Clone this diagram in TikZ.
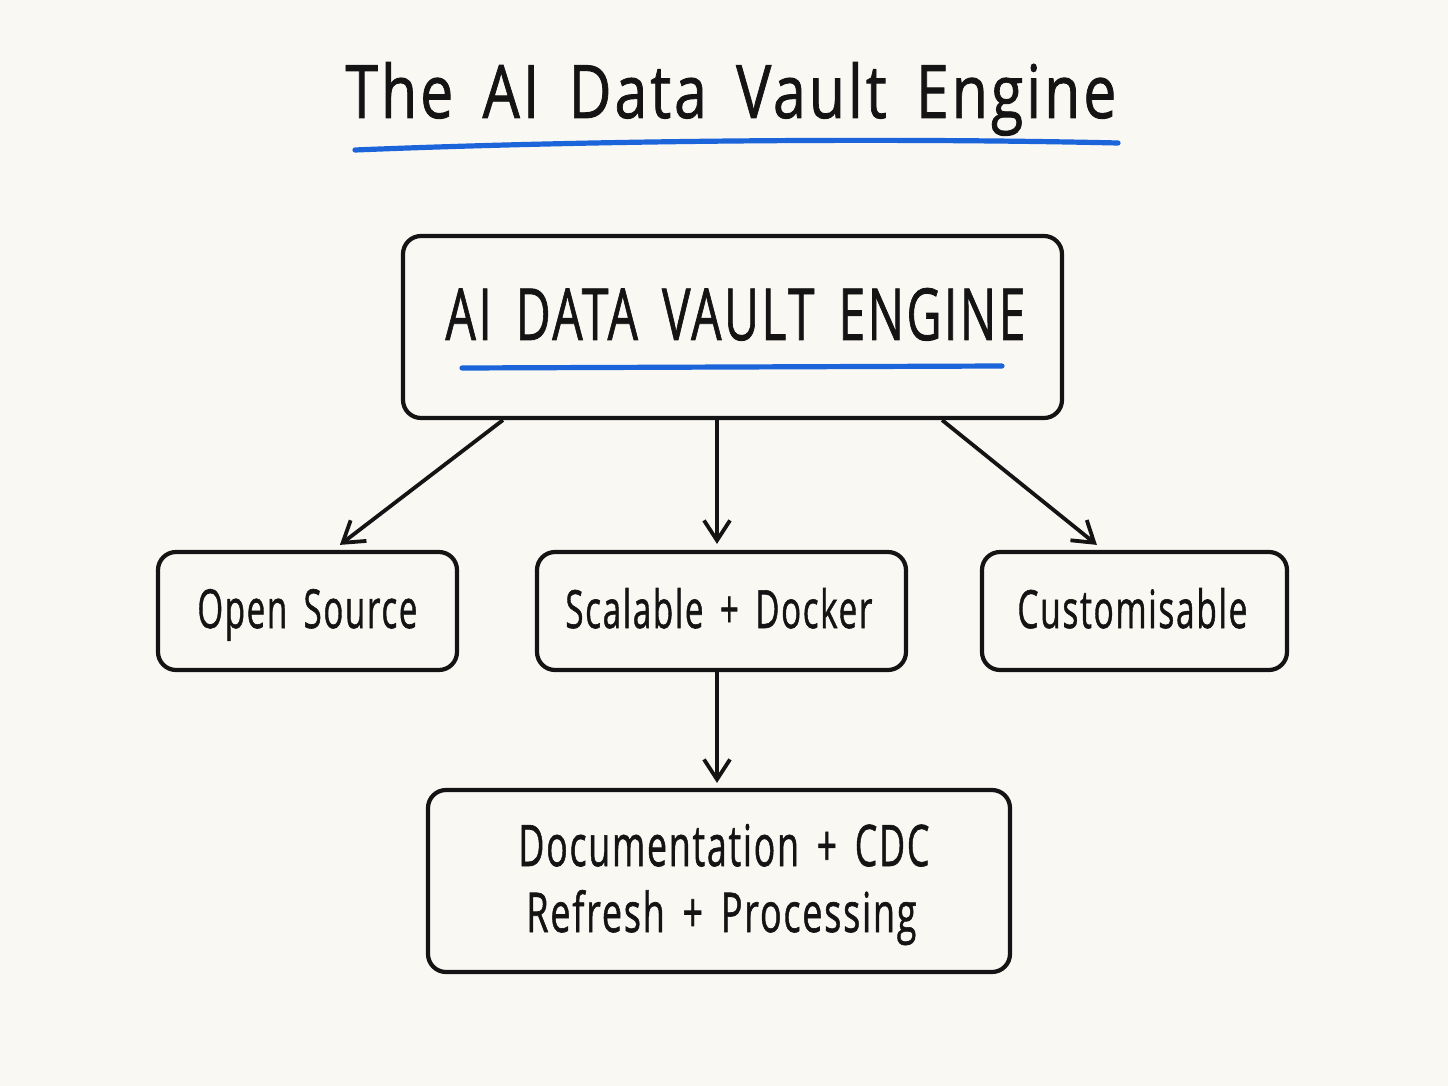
\documentclass[tikz,border=0pt]{standalone}
\usepackage{fontspec}
\setmainfont{Open Sans}
\newfontfamily\hand[LetterSpace=5, WordSpace=1.6, FakeBold=1.2]{Open Sans}
\usetikzlibrary{arrows.meta,calc}
\definecolor{bg}{HTML}{FAF8F3}
\definecolor{ink}{HTML}{141414}
\definecolor{accent}{HTML}{1C64D9}
\newcommand{\fitt}[3]{\resizebox{#1pt}{#2pt}{#3}}
\begin{document}
\begin{tikzpicture}[x=0.5pt,y=-0.5pt,
  box/.style={draw=ink, line width=2.1pt, rounded corners=9pt, rectangle, inner sep=0pt},
  lbl/.style={anchor=base west, inner sep=0pt, text=ink, font=\hand},
  conn/.style={draw=ink, line width=1.9pt, -{Straight Barb[length=10pt,width=13pt]}},
  uline/.style={draw=accent, line width=2.6pt, line cap=round}]
\fill[bg] (0,0) rectangle (1448,1086);
\useasboundingbox (0,0) rectangle (1448,1086);

% title
\node[lbl] (title) at (345,118) {\fitt{385.5}{28}{The AI Data Vault Engine}};
\draw[uline] (355,150) .. controls (600,140) and (900,138) .. (1118,143);

% boxes
\node[box, minimum width=329.5pt, minimum height=91pt] (main) at (732.5,327) {};
\node[box, minimum width=149.5pt, minimum height=59pt] (os) at (307.5,611) {};
\node[box, minimum width=184.5pt, minimum height=59pt] (sd) at (721.5,611) {};
\node[box, minimum width=152.5pt, minimum height=59pt] (cu) at (1134.5,611) {};
\node[box, minimum width=291pt, minimum height=91pt] (doc) at (719,881) {};

% labels
\node[lbl] (mainlbl) at (445,340) {\fitt{290}{26}{AI DATA VAULT ENGINE}};
\draw[uline] (462,368) -- (1002,366);
\node[lbl] (oslbl) at (197,628) {\fitt{110}{19.5}{Open Source}};
\node[lbl] (sdlbl) at (565,628) {\fitt{153.5}{20}{Scalable + Docker}};
\node[lbl] (culbl) at (1017,628) {\fitt{115}{20}{Customisable}};
\node[lbl] (doclbl1) at (518,866) {\fitt{205.5}{21}{Documentation + CDC}};
\node[lbl] (doclbl2) at (526,932) {\fitt{195}{21}{Refresh + Processing}};

% connectors
\draw[conn] ($(main.south west)+(102,0)$) -- ($(os.north west)+(184,-5)$);
\draw[conn] ($(main.south)+(-15.5,0)$) -- ($(sd.north)+(-4.5,-6)$);
\draw[conn] ($(main.south east)+(-122,0)$) -- ($(cu.north west)+(117,-5)$);
\draw[conn] ($(sd.south)+(-4.5,0)$) -- ($(doc.north)+(-2,-5)$);
\end{tikzpicture}
\end{document}
